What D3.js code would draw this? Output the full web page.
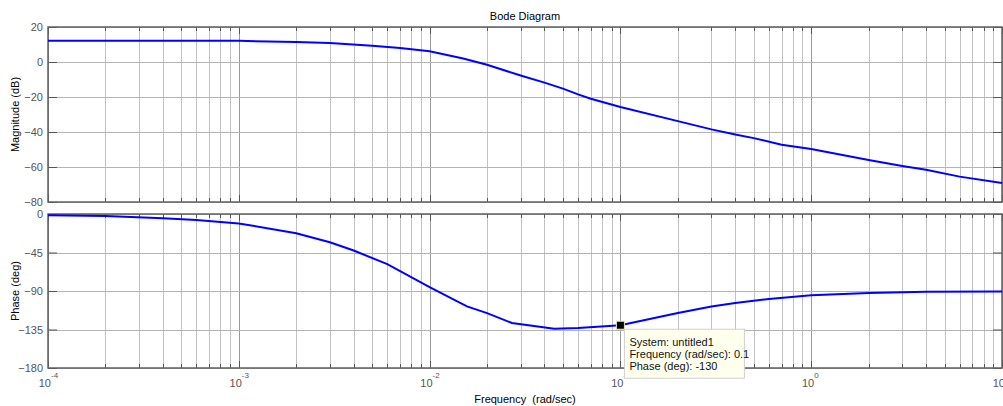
<!DOCTYPE html>
<html>
<head>
<meta charset="utf-8">
<script src="https://cdn.jsdelivr.net/npm/d3@7"></script>
<style>
  body { margin: 0; background: #fff; }
  svg { display: block; font-family: "Liberation Sans", Arial, sans-serif; }
</style>
</head>
<body>
<svg width="1003" height="406"></svg>
<script>
/* Data */
var magFreq  = [1e-4, 5e-4, 1e-3, 2e-3, 3e-3, 5e-3, 7e-3, 1e-2, 1.5e-2, 2e-2, 3e-2, 4e-2, 5e-2, 6e-2, 7e-2,
                1e-1, 2e-1, 3e-1, 4e-1, 5e-1, 7e-1, 1, 2, 3, 4, 6, 10];
var magDb    = [12.2, 12.2, 12.1, 11.4, 10.8, 9.3, 8.0, 6.1, 2.0, -1.6, -7.7, -11.8, -15.2, -18.5, -21.0,
                -25.7, -33.8, -38.5, -41.4, -43.5, -47.3, -49.7, -56, -59.4, -61.6, -65.5, -69.2];
var phaseFreq = [1e-4, 2e-4, 4e-4, 6e-4, 1e-3, 2e-3, 3e-3, 4e-3, 6e-3, 1e-2, 1.57e-2, 2e-2, 2.7e-2, 4.5e-2, 6e-2,
                 1e-1, 2e-1, 3e-1, 4e-1, 6e-1, 1, 2, 4, 10];
var phaseDeg  = [-1.5, -2.3, -5, -7, -11, -22.5, -33, -42.7, -58.6, -85.5, -108, -115.8, -127.4, -134, -133.3,
                 -130, -115.8, -108, -104, -99.4, -95, -92.4, -91, -90.5];
var magTicks   = [20, 0, -20, -40, -60, -80];
var phaseTicks = [0, -45, -90, -135, -180];
var decades    = [-4, -3, -2, -1, 0, 1];
var tipLines   = ["System: untitled1", "Frequency (rad/sec): 0.1", "Phase (deg): -130"];
var tipPoint   = { f: 0.1, p: -130 };

/* Layout */
var left = 48, right = 1002;
var svg = d3.select("svg");

var x = d3.scaleLog().domain([1e-4, 10]).range([left, right]);
var yMag = d3.scaleLinear().domain([-80, 20]).range([202, 27]);
var yPh  = d3.scaleLinear().domain([-180, 0]).range([368, 214]);

var gridTicks = x.ticks();
function isDecade(v) { return Math.abs(Math.log10(v) - Math.round(Math.log10(v))) < 1e-6; }

// Draws one panel: grid, box, ticks
function panel(y, ticks) {
    var g = svg.append("g");
    var y0 = y.range()[1], y1 = y.range()[0];

    g.selectAll(".vg").data(gridTicks).enter().append("line")
        .attr("x1", function(d){ return Math.round(x(d)) + 0.5; })
        .attr("x2", function(d){ return Math.round(x(d)) + 0.5; })
        .attr("y1", y0).attr("y2", y1)
        .style("stroke", function(d){ return isDecade(d) ? "#9a9a9a" : "#c2c2c2"; })
        .style("stroke-width", 1);

    g.selectAll(".hg").data(ticks).enter().append("line")
        .attr("x1", left).attr("x2", right)
        .attr("y1", function(d){ return Math.round(y(d)) + 0.5; })
        .attr("y2", function(d){ return Math.round(y(d)) + 0.5; })
        .style("stroke", "#b4b4b4")
        .style("stroke-width", 1);

    // left axis with labels
    var la = g.append("g").attr("transform", "translate(" + left + ",0)")
        .call(d3.axisLeft(y).tickValues(ticks).tickSize(-9).tickSizeOuter(0).tickPadding(5));
    la.select(".domain").remove();
    la.selectAll("line").style("stroke", "#555");
    la.selectAll("text").style("font-size", "11px").style("fill", "#555")
        .attr("font-family", null);

    // right axis ticks
    var ra = g.append("g").attr("transform", "translate(" + right + ",0)")
        .call(d3.axisRight(y).tickValues(ticks).tickSize(-9).tickSizeOuter(0).tickFormat(""));
    ra.select(".domain").remove();
    ra.selectAll("line").style("stroke", "#555");

    // top and bottom small ticks
    [[y0, 1], [y1, -1]].forEach(function(p) {
        g.selectAll(null).data(gridTicks).enter().append("line")
            .attr("x1", function(d){ return Math.round(x(d)) + 0.5; })
            .attr("x2", function(d){ return Math.round(x(d)) + 0.5; })
            .attr("y1", p[0])
            .attr("y2", function(d){ return p[0] + p[1] * (isDecade(d) ? 7 : 4); })
            .style("stroke", "#555");
    });

    g.append("rect")
        .attr("x", left).attr("y", y0)
        .attr("width", right - left).attr("height", y1 - y0)
        .style("fill", "none").style("stroke", "#606060").style("stroke-width", 1.5);
    return g;
}

panel(yMag, magTicks);
panel(yPh, phaseTicks);

// Curves
var magLine = d3.line().x(function(d){ return x(d[0]); }).y(function(d){ return yMag(d[1]); });
var phLine  = d3.line().x(function(d){ return x(d[0]); }).y(function(d){ return yPh(d[1]); });

svg.append("path").datum(d3.zip(magFreq, magDb)).attr("d", magLine)
    .style("fill", "none").style("stroke", "#0000ff").style("stroke-width", 2);
svg.append("path").datum(d3.zip(phaseFreq, phaseDeg)).attr("d", phLine)
    .style("fill", "none").style("stroke", "#0000ff").style("stroke-width", 2);

// X tick labels 10^n
svg.selectAll(".xl").data(decades).enter().append("text")
    .attr("x", function(d){ return x(Math.pow(10, d)) + 3; })
    .attr("y", 387)
    .attr("text-anchor", "end")
    .style("font-size", "11px").style("fill", "#555")
    .text("10");
svg.selectAll(".xs").data(decades).enter().append("text")
    .attr("x", function(d){ return x(Math.pow(10, d)) + 3; })
    .attr("y", 378)
    .style("font-size", "8px").style("fill", "#555")
    .text(function(d){ return d; });

// Titles
svg.append("text").attr("x", 525).attr("y", 20).attr("text-anchor", "middle")
    .style("font-size", "11px").text("Bode Diagram");
svg.append("text").attr("x", 525).attr("y", 403).attr("text-anchor", "middle")
    .attr("xml:space", "preserve").style("white-space", "pre")
    .style("font-size", "11px").text("Frequency  (rad/sec)");
svg.append("text").attr("transform", "translate(19," + ((yMag.range()[0] + yMag.range()[1]) / 2) + ") rotate(-90)")
    .attr("text-anchor", "middle").style("font-size", "11px").text("Magnitude (dB)");
svg.append("text").attr("transform", "translate(19," + ((yPh.range()[0] + yPh.range()[1]) / 2) + ") rotate(-90)")
    .attr("text-anchor", "middle").style("font-size", "11px").text("Phase (deg)");

// Data tip
var tx = x(tipPoint.f), ty = yPh(tipPoint.p);
var tip = svg.append("g");
tip.append("rect").attr("x", tx + 4).attr("y", ty + 4).attr("width", 120).attr("height", 49)
    .style("fill", "#ffffee").style("stroke", "#cfcfcf");
tip.selectAll("text").data(tipLines).enter().append("text")
    .attr("x", tx + 9)
    .attr("y", function(d, i){ return ty + 21 + i * 12; })
    .style("font-size", "11px").style("fill", "#111")
    .text(function(d){ return d; });
tip.append("rect").attr("x", tx - 4).attr("y", ty - 4).attr("width", 8).attr("height", 8)
    .style("fill", "#000").style("stroke", "#e8e4b0").style("stroke-width", 1);
</script>
</body>
</html>
